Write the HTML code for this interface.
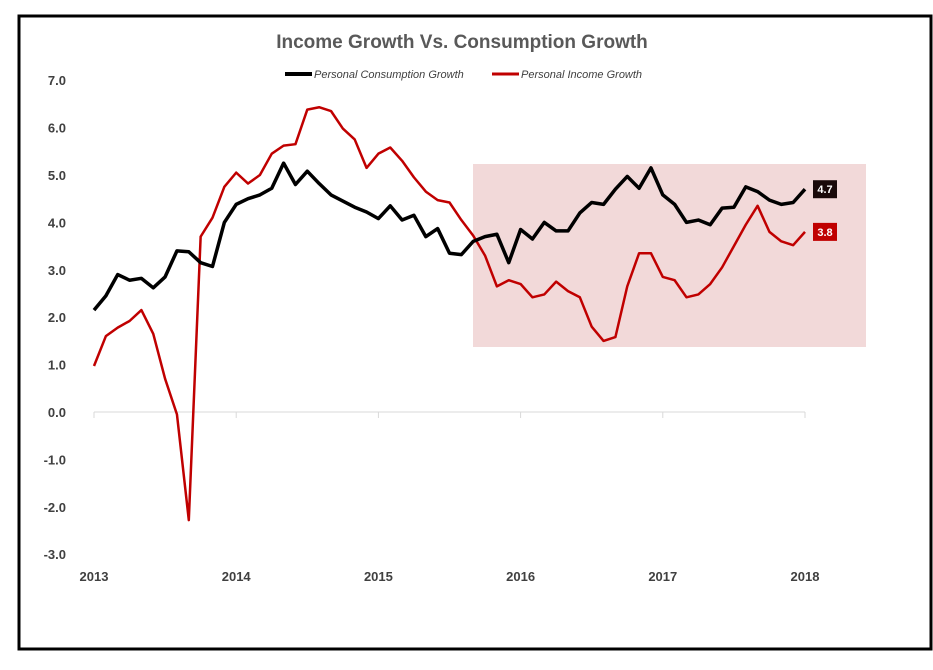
<!DOCTYPE html>
<html><head><meta charset="utf-8"><style>
body{margin:0;background:#fff;width:933px;height:665px;overflow:hidden}
svg text{font-family:"Liberation Sans",sans-serif}
</style></head><body>
<svg id="chart" width="933" height="665">
<rect x="19" y="16" width="912" height="633" fill="#fff" stroke="#000" stroke-width="3"/>
<rect x="473" y="164" width="393" height="183" fill="#f2d9d9"/>
<text x="462" y="48" text-anchor="middle" font-size="19" font-weight="bold" fill="#595959">Income Growth Vs. Consumption Growth</text>
<g>
<line x1="285" y1="74" x2="312" y2="74" stroke="#000" stroke-width="4"/>
<text x="314" y="78" font-size="11" font-style="italic" fill="#404040">Personal Consumption Growth</text>
<line x1="492" y1="74" x2="519" y2="74" stroke="#c00000" stroke-width="3"/>
<text x="521" y="78" font-size="11" font-style="italic" fill="#404040">Personal Income Growth</text>
</g>
<g id="axes"></g>
<g id="series"></g>
</svg>
<script>
const yTicks=[7,6,5,4,3,2,1,0,-1,-2,-3];
const xTickLabels=["2013","2014","2015","2016","2017","2018"];
const consumption=[2.15,2.45,2.9,2.78,2.82,2.62,2.85,3.4,3.38,3.15,3.07,4.0,4.38,4.5,4.58,4.72,5.25,4.8,5.08,4.82,4.58,4.45,4.32,4.22,4.08,4.35,4.05,4.15,3.7,3.87,3.35,3.32,3.6,3.7,3.75,3.15,3.85,3.65,4.0,3.82,3.82,4.2,4.42,4.38,4.7,4.97,4.72,5.15,4.58,4.38,4.0,4.05,3.95,4.3,4.32,4.75,4.65,4.47,4.38,4.42,4.7];
const income=[0.97,1.6,1.78,1.92,2.15,1.65,0.7,-0.05,-2.28,3.7,4.1,4.75,5.05,4.82,5.0,5.45,5.62,5.65,6.38,6.43,6.35,5.98,5.75,5.15,5.45,5.58,5.3,4.95,4.65,4.47,4.42,4.05,3.72,3.3,2.65,2.78,2.7,2.42,2.48,2.75,2.55,2.42,1.8,1.5,1.58,2.65,3.35,3.35,2.85,2.78,2.42,2.48,2.7,3.05,3.5,3.95,4.35,3.8,3.6,3.52,3.8];
const NS="http://www.w3.org/2000/svg";
const yS=v=>412-v*47.4;
const xS=i=>94+i*(711/60);
const ax=document.getElementById('axes'),sr=document.getElementById('series');
function mk(p,tag,a){const e=document.createElementNS(NS,tag);for(const k in a)e.setAttribute(k,a[k]);p.appendChild(e);return e;}
const axl=mk(ax,'line',{x1:94,x2:805,y1:yS(0),y2:yS(0),stroke:'#d9d9d9','stroke-width':1});


yTicks.forEach(v=>{const t=mk(ax,'text',{x:66,y:yS(v)+5,'text-anchor':'end','font-size':13,'font-weight':'bold',fill:'#404040'});t.textContent=v.toFixed(1);

});
xTickLabels.forEach((l,i)=>{const x=xS(i*12);
const tk=mk(ax,'line',{x1:x,x2:x,y1:yS(0),y2:yS(0)+6,stroke:'#d9d9d9'});


const t=mk(ax,'text',{x:x,y:581,'text-anchor':'middle','font-size':13,'font-weight':'bold',fill:'#404040'});t.textContent=l;

});
function line(d,c,w,n){const p=mk(sr,'polyline',{points:d.map((v,i)=>xS(i)+','+yS(v)).join(' '),fill:'none',stroke:c,'stroke-width':w,'stroke-linejoin':'round'});

}
line(income,'#c00000',2.5,'income-line');
line(consumption,'#000',3.5,'consumption-line');
function lab(d,c,n){const v=d[d.length-1],y=yS(v);
const r=mk(sr,'rect',{x:813,y:y-9,width:24,height:18,fill:c});


const t=mk(sr,'text',{x:825,y:y+4,'text-anchor':'middle','font-size':11,'font-weight':'bold',fill:'#fff'});t.textContent=v.toFixed(1);

}
lab(consumption,'#1a0a0a','consumption-end-label');
lab(income,'#c00000','income-end-label');
</script>
</body></html>
